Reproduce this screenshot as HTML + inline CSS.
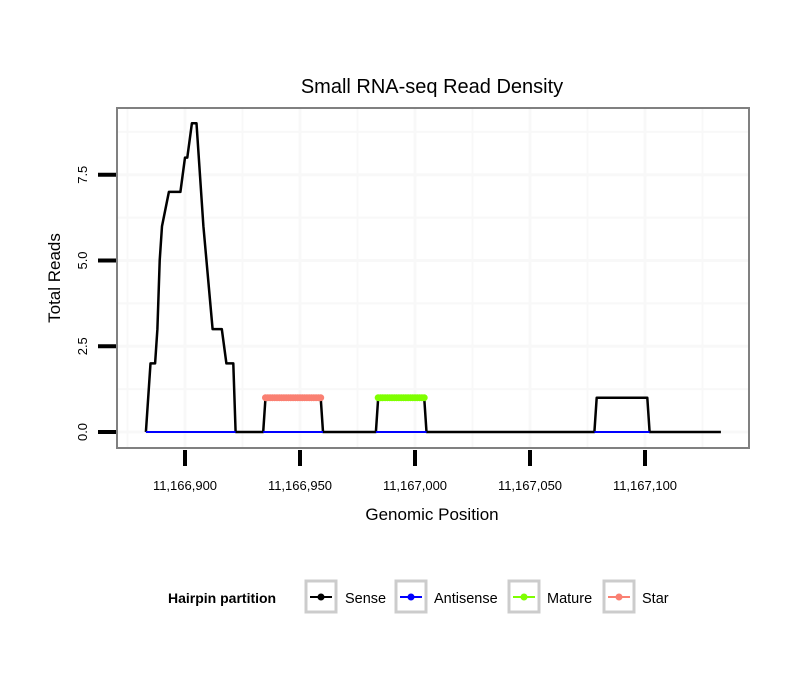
<!DOCTYPE html>
<html><head><meta charset="utf-8"><style>
body{margin:0;background:#fff;}
svg text{font-family:"Liberation Sans",Arial,sans-serif;}
</style></head><body>
<svg id="chart" width="810" height="690" xmlns="http://www.w3.org/2000/svg">
<rect width="810" height="690" fill="#fff"/>
<text x="432" y="93" font-size="20" text-anchor="middle">Small RNA-seq Read Density</text>
<g id="grid"></g>
<g id="series"></g>
<rect x="117" y="108" width="632" height="340" fill="none" stroke="#808080" stroke-width="2"/>
<g id="axes"></g>
<text x="432" y="520" font-size="17" text-anchor="middle">Genomic Position</text>
<text transform="translate(60,278) rotate(-90)" font-size="17" text-anchor="middle">Total Reads</text>
<g>
<text x="168" y="603" font-size="14" font-weight="bold">Hairpin partition</text>
<g><rect x="306" y="581" width="30" height="31" fill="#fff" stroke="#ccc" stroke-width="3"/><line x1="310" y1="597" x2="332" y2="597" stroke="#000" stroke-width="2"/><circle cx="321" cy="597" r="3.5" fill="#000"/><text x="345" y="603" font-size="14.5">Sense</text></g>
<g><rect x="396" y="581" width="30" height="31" fill="#fff" stroke="#ccc" stroke-width="3"/><line x1="400" y1="597" x2="422" y2="597" stroke="#00f" stroke-width="2"/><circle cx="411" cy="597" r="3.5" fill="#00f"/><text x="434" y="603" font-size="14.5">Antisense</text></g>
<g><rect x="509" y="581" width="30" height="31" fill="#fff" stroke="#ccc" stroke-width="3"/><line x1="513" y1="597" x2="535" y2="597" stroke="#7fff00" stroke-width="2"/><circle cx="524" cy="597" r="3.5" fill="#7fff00"/><text x="547" y="603" font-size="14.5">Mature</text></g>
<g><rect x="604" y="581" width="30" height="31" fill="#fff" stroke="#ccc" stroke-width="3"/><line x1="608" y1="597" x2="630" y2="597" stroke="#fa8072" stroke-width="2"/><circle cx="619" cy="597" r="3.5" fill="#fa8072"/><text x="642" y="603" font-size="14.5">Star</text></g>
</g>
</svg>
<script>
const xTicks=[11166900,11166950,11167000,11167050,11167100];
const xTickLabels=["11,166,900","11,166,950","11,167,000","11,167,050","11,167,100"];
const yTicks=[0,2.5,5,7.5];
const yTickLabels=["0.0","2.5","5.0","7.5"];
const sensePos=[11166883,11166885,11166887,11166888,11166889,11166890,11166893,11166898,11166900,11166901,11166903,11166905,11166908,11166912,11166916,11166918,11166921,11166922,11166934,11166935,11166959,11166960,11166983,11166984,11167004,11167005,11167078,11167079,11167101,11167102,11167133];
const senseVal=[0,2,2,3,5,6,7,7,8,8,9,9,6,3,3,2,2,0,0,1,1,0,0,1,1,0,0,1,1,0,0];
const antisenseRanges=[[11166883,11166922],[11166934,11166960],[11166983,11167005],[11167078,11167102]];
const starPos=[11166935,11166936,11166937,11166938,11166939,11166940,11166941,11166942,11166943,11166944,11166945,11166946,11166947,11166948,11166949,11166950,11166951,11166952,11166953,11166954,11166955,11166956,11166957,11166958,11166959];
const starVal=starPos.map(()=>1);
const maturePos=[11166984,11166985,11166986,11166987,11166988,11166989,11166990,11166991,11166992,11166993,11166994,11166995,11166996,11166997,11166998,11166999,11167000,11167001,11167002,11167003,11167004];
const matureVal=maturePos.map(()=>1);

const NS="http://www.w3.org/2000/svg";
const X=v=>185+(v-11166900)*2.3;
const Y=v=>432-v*34.3;
function mk(tag,attrs,parent){const e=document.createElementNS(NS,tag);for(const k in attrs)e.setAttribute(k,attrs[k]);parent.appendChild(e);return e;}
const grid=document.getElementById('grid'),ser=document.getElementById('series'),axes=document.getElementById('axes');
mk('rect',{x:117,y:108,width:632,height:340,fill:'#fff'},grid);
for(let v=11166875;v<=11167125;v+=25){const l=mk('line',{x1:X(v),x2:X(v),y1:109,y2:447,stroke:'#f8f8f8','stroke-width':v%50===0?3:2},grid);

}
for(let v=0;v<=8.75;v+=1.25){const l=mk('line',{x1:118,x2:748,y1:Y(v),y2:Y(v),stroke:'#f8f8f8','stroke-width':Math.abs(v/2.5-Math.round(v/2.5))<1e-6?3:2},grid);

}
const sp=mk('polyline',{points:sensePos.map((p,i)=>X(p)+','+Y(senseVal[i])).join(' '),fill:'none',stroke:'#000','stroke-width':2.5,'stroke-linejoin':'round'},ser);


antisenseRanges.forEach(r=>{const l=mk('line',{x1:X(r[0]),x2:X(r[1]),y1:Y(0),y2:Y(0),stroke:'#00f','stroke-width':2},ser);

});
function dots(pos,val,col,name){
 const l=mk('polyline',{points:pos.map((p,i)=>X(p)+','+Y(val[i])).join(' '),fill:'none',stroke:col,'stroke-width':2.5},ser);
 
 
 pos.forEach((p,i)=>{const c=mk('circle',{cx:X(p),cy:Y(val[i]),r:3.5,fill:col},ser);
 
 });
}
dots(starPos,starVal,'#fa8072','star');
dots(maturePos,matureVal,'#7fff00','mature');
xTicks.forEach((t,i)=>{
 const l=mk('line',{x1:X(t),x2:X(t),y1:450,y2:466,stroke:'#000','stroke-width':4},axes);
 
 
 const tx=mk('text',{x:X(t),y:490,'font-size':13,'text-anchor':'middle'},axes);tx.textContent=xTickLabels[i];
 
 
});
yTicks.forEach((t,i)=>{
 const l=mk('line',{x1:98,x2:116,y1:Y(t),y2:Y(t),stroke:'#000','stroke-width':4},axes);
 
 
 const tx=mk('text',{transform:`translate(87,${Y(t)}) rotate(-90)`,'font-size':13,'text-anchor':'middle'},axes);tx.textContent=yTickLabels[i];
 
 
});
</script>
</body></html>
